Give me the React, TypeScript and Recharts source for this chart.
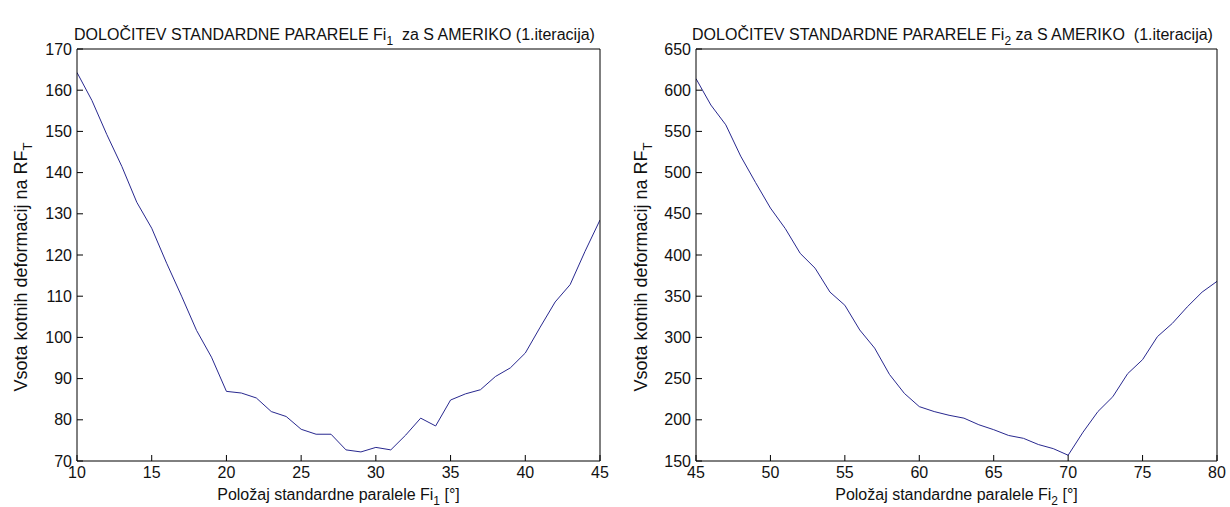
import React from 'react';
import { LineChart, Line, XAxis, YAxis } from 'recharts';

// Fi1 sweep (left panel)
const fi1 = [10, 11, 12, 13, 14, 15, 16, 17, 18, 19, 20, 21, 22, 23, 24, 25, 26, 27, 28, 29, 30, 31, 32, 33, 34, 35, 36, 37, 38, 39, 40, 41, 42, 43, 44, 45];
const vsota1 = [164.3, 157.5, 149.2, 141.5, 132.8, 126.5, 118, 110, 101.7, 95.2, 86.9, 86.5, 85.3, 82, 80.8, 77.7, 76.5, 76.5, 72.7, 72.2, 73.3, 72.7, 76.3, 80.4, 78.5, 84.8, 86.3, 87.3, 90.5, 92.6, 96.2, 102.5, 108.6, 112.8, 120.9, 128.5];

// Fi2 sweep (right panel)
const fi2 = [45, 46, 47, 48, 49, 50, 51, 52, 53, 54, 55, 56, 57, 58, 59, 60, 61, 62, 63, 64, 65, 66, 67, 68, 69, 70, 71, 72, 73, 74, 75, 76, 77, 78, 79, 80];
const vsota2 = [614, 582, 558, 520, 488, 457, 432, 402, 384, 355, 339, 309, 287, 255, 232, 216, 210, 205.5, 202, 194, 188, 181, 177.5, 170, 165, 157, 185, 210, 228, 256, 273, 301, 317, 337, 355, 368];

const xTicks1 = [10, 15, 20, 25, 30, 35, 40, 45];
const yTicks1 = [70, 80, 90, 100, 110, 120, 130, 140, 150, 160, 170];
const xTicks2 = [45, 50, 55, 60, 65, 70, 75, 80];
const yTicks2 = [150, 200, 250, 300, 350, 400, 450, 500, 550, 600, 650];

const FONT = '"Liberation Sans", Arial, sans-serif';
const LINE = '#28288f';

const TitleLabel = ({ viewBox, head, sub, tail }: any) => {
  const { x, y, width } = viewBox;
  return (
    <text x={x + width / 2 - 4} y={y - 8} textAnchor="middle" fontFamily={FONT} fontSize={16} fill="#111" style={{ whiteSpace: 'pre' }}>
      <tspan>{head}</tspan>
      <tspan dy={5} fontSize={12}>{sub}</tspan>
      <tspan dy={-5}>{tail}</tspan>
    </text>
  );
};

const XLabel = ({ viewBox, sub }: any) => {
  const { x, y, width } = viewBox;
  return (
    <text x={x + width / 2} y={y + 39} textAnchor="middle" fontFamily={FONT} fontSize={16} fill="#111">
      <tspan>Položaj standardne paralele Fi</tspan>
      <tspan dy={5} fontSize={12}>{sub}</tspan>
      <tspan dy={-5}> [°]</tspan>
    </text>
  );
};

const YLabel = ({ viewBox, dx }: any) => {
  const { x, y, height } = viewBox;
  const cx = x + dx;
  const cy = y + height / 2 + 12;
  return (
    <text x={cx} y={cy} textAnchor="middle" fontFamily={FONT} fontSize={18} fill="#111" transform={`rotate(-90 ${cx} ${cy})`}>
      <tspan>Vsota kotnih deformacij na RF</tspan>
      <tspan dy={5} fontSize={13}>T</tspan>
    </text>
  );
};

const tickStyle = { fontFamily: FONT, fontSize: 16, fill: '#111' };
const tickLine = { stroke: '#000', strokeWidth: 1 };

const Panel = ({ data, xTicks, yTicks, left, width, yWidth, right, sub, head, tail }: any) => {
  const xDomain = [xTicks[0], xTicks[xTicks.length - 1]];
  const yDomain = [yTicks[0], yTicks[yTicks.length - 1]];
  return (
    <div style={{ position: 'absolute', left, top: 0 }}>
      <LineChart width={width} height={507} data={data} margin={{ top: 48, right: right - 1, bottom: 0, left: 0 }}>
        <XAxis
          dataKey="x"
          type="number"
          domain={xDomain}
          ticks={xTicks}
          allowDataOverflow
          height={46}
          tickSize={-6}
          tickMargin={12}
          tick={tickStyle}
          tickLine={tickLine}
          stroke="#000"
          label={<XLabel sub={sub} />}
        />
        <XAxis
          xAxisId="top"
          dataKey="x"
          orientation="top"
          type="number"
          domain={xDomain}
          ticks={xTicks}
          allowDataOverflow
          height={1}
          tickSize={-6}
          tick={false}
          tickLine={tickLine}
          stroke="#000"
          label={<TitleLabel head={head} sub={sub} tail={tail} />}
        />
        <YAxis
          type="number"
          domain={yDomain}
          ticks={yTicks}
          allowDataOverflow
          width={yWidth}
          tickSize={-6}
          tickMargin={11}
          tick={tickStyle}
          tickLine={tickLine}
          stroke="#000"
          label={<YLabel dx={27} />}
        />
        <YAxis
          yAxisId="right"
          orientation="right"
          type="number"
          domain={yDomain}
          ticks={yTicks}
          allowDataOverflow
          width={1}
          tickSize={-6}
          tick={false}
          tickLine={tickLine}
          stroke="#000"
        />
        <Line type="linear" dataKey="y" stroke={LINE} strokeWidth={1} dot={false} isAnimationActive={false} />
        {/* invisible copy so the top/right frame axes get drawn */}
        <Line xAxisId="top" yAxisId="right" type="linear" dataKey="y" stroke="none" dot={false} activeDot={false} isAnimationActive={false} />
      </LineChart>
    </div>
  );
};

export default function App() {
  const data1 = fi1.map((x, i) => ({ x, y: vsota1[i] }));
  const data2 = fi2.map((x, i) => ({ x, y: vsota2[i] }));
  return (
    <div style={{ position: 'absolute', left: 0, top: 0, width: 1230, height: 507, background: '#fff' }}>
      <Panel
        data={data1}
        xTicks={xTicks1}
        yTicks={yTicks1}
        left={0}
        width={620}
        yWidth={77}
        right={20}
        sub="1"
        head="DOLOČITEV STANDARDNE PARARELE Fi"
        tail="  za S AMERIKO (1.iteracija)"
      />
      <Panel
        data={data2}
        xTicks={xTicks2}
        yTicks={yTicks2}
        left={620}
        width={610}
        yWidth={76}
        right={13}
        sub="2"
        head="DOLOČITEV STANDARDNE PARARELE Fi"
        tail=" za S AMERIKO  (1.iteracija)"
      />
    </div>
  );
}
